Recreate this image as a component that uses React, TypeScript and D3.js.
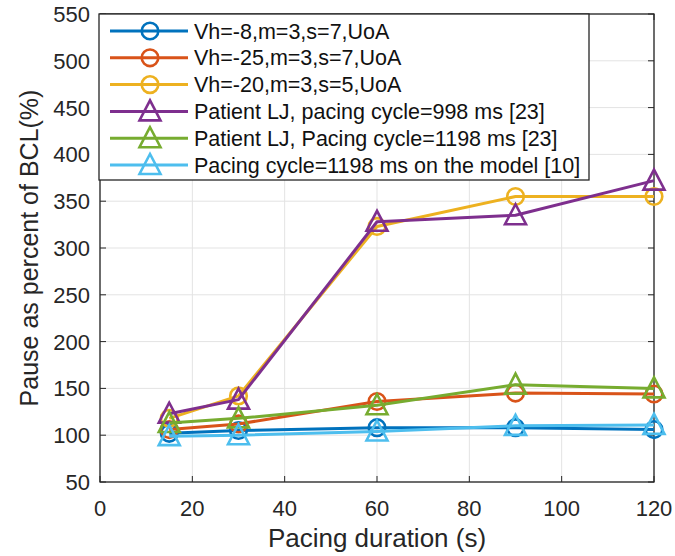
import React from "react";
import * as d3 from "d3";

const durations = [15, 30, 60, 90, 120];
const seriesNames = [
  "Vh=-8,m=3,s=7,UoA",
  "Vh=-25,m=3,s=7,UoA",
  "Vh=-20,m=3,s=5,UoA",
  "Patient LJ, pacing cycle=998 ms [23]",
  "Patient LJ, Pacing cycle=1198 ms [23]",
  "Pacing cycle=1198 ms on the model [10]",
];
const vh8 = [102, 105, 108, 108, 106];
const vh25 = [106, 112, 136, 145, 144];
const vh20 = [118, 142, 323, 355, 355];
const lj998 = [123, 138, 328, 335, 372];
const lj1198 = [113, 118, 132, 154, 150];
const model1198 = [99, 100, 104, 110, 111];
const seriesValues = [vh8, vh25, vh20, lj998, lj1198, model1198];
const seriesColors = ["#0072BD", "#D95319", "#EDB120", "#7E2F8E", "#77AC30", "#4DBEEE"];
const seriesMarkers = ["circle", "circle", "circle", "triangle", "triangle", "triangle"];
const xTicks = [0, 20, 40, 60, 80, 100, 120];
const yTicks = [50, 100, 150, 200, 250, 300, 350, 400, 450, 500, 550];

const W = 675;
const H = 556;
const L = 100, R = 654, T = 14, B = 482;
const FONT = "'Liberation Sans', Arial, Helvetica, sans-serif";

function Marker({ type, x, y, color }: { type: string; x: number; y: number; color: string }) {
  if (type === "circle") {
    return <circle cx={x} cy={y} r={8.3} fill="none" stroke={color} strokeWidth={2.6} />;
  }
  const hw = 10.5;
  const pts = `${x},${y - 11} ${x - hw},${y + 9} ${x + hw},${y + 9}`;
  return <polygon points={pts} fill="none" stroke={color} strokeWidth={2.6} strokeLinejoin="miter" />;
}

export default function App() {
  const x = d3.scaleLinear().domain([0, 120]).range([L, R]);
  const y = d3.scaleLinear().domain([50, 550]).range([B, T]);
  const line = d3
    .line<number>()
    .x((_, i) => x(durations[i]))
    .y((d) => y(d));

  const legX = 99, legY = 14, legW = 490, legH = 166;
  const rowH = 26.8;

  return (
    <svg
      width={W}
      height={H}
      style={{ position: "absolute", left: 0, top: 0, background: "#fff" }}
      fontFamily={FONT}
    >
      <rect x={0} y={0} width={W} height={H} fill="#fff" />
      {/* grid */}
      {xTicks.map((t) => (
        <line key={"gx" + t} x1={x(t)} x2={x(t)} y1={T} y2={B} stroke="#e3e3e3" strokeWidth={1} />
      ))}
      {yTicks.map((t) => (
        <line key={"gy" + t} x1={L} x2={R} y1={y(t)} y2={y(t)} stroke="#e3e3e3" strokeWidth={1} />
      ))}
      {/* ticks */}
      {xTicks.map((t) => (
        <g key={"tx" + t}>
          <line x1={x(t)} x2={x(t)} y1={B} y2={B - 6} stroke="#262626" strokeWidth={1} />
          <line x1={x(t)} x2={x(t)} y1={T} y2={T + 6} stroke="#262626" strokeWidth={1} />
          <text x={x(t)} y={516} textAnchor="middle" fontSize={22} fill="#262626">
            {t}
          </text>
        </g>
      ))}
      {yTicks.map((t) => (
        <g key={"ty" + t}>
          <line x1={L} x2={L + 6} y1={y(t)} y2={y(t)} stroke="#262626" strokeWidth={1} />
          <line x1={R} x2={R - 6} y1={y(t)} y2={y(t)} stroke="#262626" strokeWidth={1} />
          <text x={90} y={y(t) + 8} textAnchor="end" fontSize={22} fill="#262626">
            {t}
          </text>
        </g>
      ))}
      <rect x={L} y={T} width={R - L} height={B - T} fill="none" stroke="#262626" strokeWidth={1.3} />
      {/* series */}
      {seriesValues.map((vals, si) => (
        <g key={"s" + si}>
          <path d={line(vals) || ""} fill="none" stroke={seriesColors[si]} strokeWidth={3} strokeLinejoin="round" />
          {vals.map((v, i) => (
            <Marker key={i} type={seriesMarkers[si]} x={x(durations[i])} y={y(v)} color={seriesColors[si]} />
          ))}
        </g>
      ))}
      {/* legend */}
      <rect x={legX} y={legY} width={legW} height={legH} fill="#fff" stroke="#262626" strokeWidth={1.3} />
      {seriesNames.map((n, i) => {
        const cy = legY + 17 + rowH * i;
        return (
          <g key={"l" + i}>
            <line x1={110} x2={188} y1={cy} y2={cy} stroke={seriesColors[i]} strokeWidth={3} />
            <Marker type={seriesMarkers[i]} x={150} y={cy} color={seriesColors[i]} />
            <text x={194} y={cy + 7.5} fontSize={21.5} fill="#111">
              {n}
            </text>
          </g>
        );
      })}
      {/* axis labels */}
      <text x={(L + R) / 2} y={547} textAnchor="middle" fontSize={26} fill="#262626">
        Pacing duration (s)
      </text>
      <text
        transform={`translate(38, ${(T + B) / 2}) rotate(-90)`}
        textAnchor="middle"
        fontSize={25}
        fill="#262626"
      >
        Pause as percent of BCL(%)
      </text>
    </svg>
  );
}
